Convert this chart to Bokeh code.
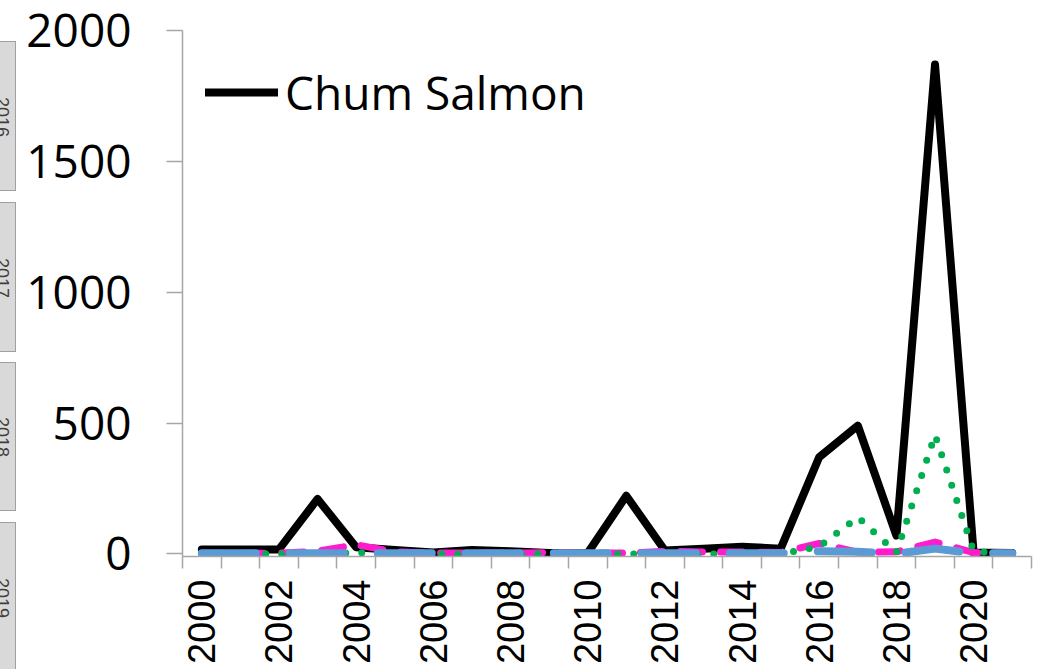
import math
from bokeh.plotting import figure
from bokeh.models import Range1d, FixedTicker, Legend, LegendItem, ColumnDataSource, Div
from bokeh.layouts import row
from bokeh.embed import file_html
from bokeh.resources import INLINE

# ---- data ----
years = list(range(2000, 2022))
chum = [17, 17, 17, 210, 25, 15, 5, 15, 10, 3, 3, 222, 13, 20, 27, 20, 370, 490, 70, 1870, 5, 3]
series_pink = [2, 2, 3, 10, 35, 8, 3, 3, 3, 5, 3, 3, 10, 7, 7, 5, 40, 7, 8, 45, 5, 2]
series_green = [0, 0, 0, 0, 5, 0, 0, 0, 0, 0, 0, 0, 0, 0, 0, 0, 28, 140, 5, 455, 10, 0]
series_blue = [2, 2, 2, 2, 3, 2, 2, 2, 2, 2, 2, 2, 2, 2, 2, 2, 10, 8, 1, 20, 3, 2]
y_ticks = [0, 500, 1000, 1500, 2000]
x_label_years = list(range(2000, 2021, 2))
slicer_labels = ["2016", "2017", "2018", "2019"]

# ---- layout of the slicer strip (pixels) ----
slicer_top = [41, 202, 362, 522]
slicer_bottom = [193, 354, 513, 700]
slicer_text_y = [117, 278, 437, 598]

html = ['<div style="position:relative;width:18px;height:669px;overflow:hidden;background:white;">']
for t, b, ty, lab in zip(slicer_top, slicer_bottom, slicer_text_y, slicer_labels):
    html.append(
        f'<div style="position:absolute;left:-6px;top:{t}px;width:22px;height:{b - t - 2}px;'
        f'background:#d9d9d9;border:1px solid #a0a0a0;"></div>')
    html.append(
        f'<div style="position:absolute;left:-28px;top:{ty - 10}px;width:60px;height:20px;'
        f'line-height:20px;text-align:center;transform:rotate(90deg);'
        f"font-family:'Liberation Sans';font-size:18px;color:#404040;\">{lab}</div>")
html.append('</div>')
strip = Div(text="".join(html), width=18, height=669, margin=0)

src = ColumnDataSource(dict(year=years, chum=chum, pink=series_pink,
                            green=series_green, blue=series_blue))

p = figure(width=1020, height=669,
           x_range=Range1d(1999.5, 2021.5), y_range=Range1d(-10, 2000),
           output_backend="svg", toolbar_location=None,
           min_border_left=164, min_border_right=7,
           min_border_top=30, min_border_bottom=113)
p.xgrid.visible = False
p.ygrid.visible = False
p.outline_line_color = None
p.background_fill_color = "white"
p.border_fill_color = "white"

axis_col = "#a6a6a6"

xa = p.xaxis[0]
xa.ticker = FixedTicker(ticks=x_label_years,
                        minor_ticks=[y - 0.5 for y in years] + [years[-1] + 0.5])
xa.axis_line_color = axis_col
xa.axis_line_width = 1.5
xa.major_tick_out = 0
xa.major_tick_in = 0
xa.minor_tick_out = 12
xa.minor_tick_in = 0
xa.minor_tick_line_color = axis_col
xa.minor_tick_line_width = 1.5
xa.major_label_orientation = math.pi / 2
xa.major_label_text_font = "Liberation Sans"
xa.major_label_text_font_size = "38px"
xa.major_label_text_color = "black"
xa.major_label_standoff = 11

ya = p.yaxis[0]
ya.ticker = FixedTicker(ticks=y_ticks, minor_ticks=[])
ya.axis_line_color = axis_col
ya.axis_line_width = 1.5
ya.major_tick_out = 16
ya.major_tick_in = 0
ya.major_tick_line_color = axis_col
ya.major_tick_line_width = 1.5
ya.minor_tick_line_color = None
ya.major_label_text_font = "Open Sans"
ya.major_label_text_font_size = "46px"
ya.major_label_text_color = "black"
ya.major_label_standoff = 35

r_chum = p.line("year", "chum", source=src, line_color="black", line_width=8,
                line_join="round", line_cap="round")
r_pink = p.line("year", "pink", source=src, line_color="#ff1ccc", line_width=7,
                line_dash="22 18", line_join="round", line_cap="round")
r_green = p.line("year", "green", source=src, line_color="#00b050", line_width=7,
                 line_dash="0 16", line_join="round", line_cap="round")
r_blue = p.line("year", "blue", source=src, line_color="#5b9bd5", line_width=8,
                line_dash="54 34", line_join="round", line_cap="round")

legend = Legend(items=[LegendItem(label="Chum Salmon", renderers=[r_chum])],
                location="top_left", margin=23, padding=0,
                glyph_width=73, glyph_height=78, label_standoff=7,
                label_text_font="Open Sans", label_text_font_size="46px",
                label_text_color="black",
                border_line_color=None, background_fill_alpha=0)
p.add_layout(legend)

layout = row(strip, p)

open("out.html", "w").write(file_html(layout, INLINE))
